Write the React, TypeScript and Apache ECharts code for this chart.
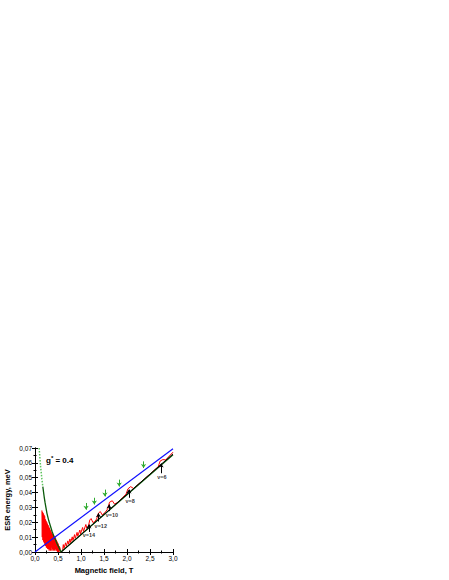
import React, { useEffect, useRef } from "react";
import * as echarts from "echarts";

// Blue line: Zeeman energy with g* = 0.4
const blueLine: number[][] = [[0, 0], [3.0, 0.0695]];
// Black line (ESR branch)
const blackLine: number[][] = [[0.57, 0], [3.0, 0.066]];
// Light green dotted part of the calculated curve
const greenDotted: number[][] = [[0.09, 0.07], [0.12, 0.058], [0.15, 0.049], [0.17, 0.044]];
// Dark green calculated curve
const greenCurve: number[][] = [
  [0.17, 0.044], [0.2, 0.037], [0.22, 0.033], [0.26, 0.026], [0.3, 0.021], [0.33, 0.018], [0.37, 0.014],
  [0.4, 0.0115], [0.44, 0.0085], [0.48, 0.0055], [0.52, 0.003], [0.565, 0], [3.0, 0.0654],
];
// Red measured trace
const redTrace: number[][] = [
  [0.150, 0.028], [0.158, 0.010], [0.165, 0.027], [0.172, 0.008], [0.180, 0.026], [0.188, 0.007],
  [0.195, 0.025], [0.203, 0.006], [0.210, 0.024], [0.218, 0.005], [0.225, 0.022], [0.233, 0.004],
  [0.240, 0.021], [0.248, 0.003], [0.255, 0.020], [0.263, 0.003], [0.270, 0.019], [0.278, 0.002],
  [0.285, 0.018], [0.293, 0.002], [0.300, 0.017], [0.308, 0.001], [0.315, 0.016], [0.323, 0.002],
  [0.330, 0.015], [0.338, 0.001], [0.345, 0.014], [0.353, 0.003], [0.360, 0.013], [0.368, 0.001],
  [0.375, 0.012], [0.383, 0.002], [0.390, 0.012], [0.398, 0.001], [0.405, 0.011], [0.413, 0.002],
  [0.420, 0.010], [0.428, 0.001], [0.435, 0.010], [0.443, 0.002], [0.450, 0.009], [0.458, 0.001],
  [0.465, 0.008], [0.473, 0.001], [0.480, 0.007], [0.488, 0.000], [0.495, 0.006], [0.503, 0.001],
  [0.510, 0.005], [0.518, 0.000], [0.525, 0.004], [0.533, 0.001], [0.540, 0.003], [0.550, 0.000],
  [0.58, 0.0005], [0.60, 0.001], [0.615, 0.005], [0.63, 0.0025], [0.665, 0.0062], [0.68, 0.0038],
  [0.715, 0.0075], [0.73, 0.0052], [0.76, 0.0088], [0.775, 0.0064], [0.81, 0.0102], [0.825, 0.0077],
  [0.86, 0.0117], [0.875, 0.0091], [0.915, 0.0132], [0.93, 0.0106], [0.975, 0.0148], [0.99, 0.0122],
  [1.035, 0.0165], [1.055, 0.0138], [1.105, 0.0185], [1.13, 0.0158], [1.16, 0.0172], [1.19, 0.0215],
  [1.22, 0.0225], [1.26, 0.0198], [1.30, 0.0205], [1.34, 0.0222], [1.38, 0.0262], [1.42, 0.0272],
  [1.46, 0.0250], [1.52, 0.0265], [1.58, 0.0290], [1.62, 0.0335], [1.68, 0.0345], [1.73, 0.0322],
  [1.80, 0.0335], [1.90, 0.0365], [1.98, 0.0390], [2.02, 0.0425], [2.08, 0.0440], [2.14, 0.0428],
  [2.30, 0.0470], [2.50, 0.0525], [2.68, 0.0575], [2.72, 0.0612], [2.78, 0.0622], [2.84, 0.0620],
  [3.0, 0.0672],
];
// Green arrows: [field, energy start (top), energy tip (bottom)]
const greenArrows: number[][] = [
  [1.11, 0.033, 0.0285], [1.29, 0.0365, 0.032], [1.52, 0.042, 0.0374], [1.83, 0.0487, 0.0441], [2.36, 0.061, 0.0565],
];
// Black arrows: [field, energy start (bottom), energy tip (top)]
const blackArrows: number[][] = [
  [1.17, 0.0135, 0.0185], [1.38, 0.0205, 0.026], [1.61, 0.0275, 0.032], [2.04, 0.0365, 0.042], [2.74, 0.053, 0.0595],
];
const fillingLabels: string[] = ["ν=14", "ν=12", "ν=10", "ν=8", "ν=6"];
const fillingLabelPos: number[][] = [[1.17, 0.0115], [1.43, 0.0175], [1.67, 0.0248], [2.07, 0.034], [2.76, 0.0505]];

const FONT = "Liberation Sans, Arial, sans-serif";

export default function App() {
  const ref = useRef<HTMLDivElement>(null);
  useEffect(() => {
    if (!ref.current) return;
    const chart = echarts.init(ref.current, null, { renderer: "svg" });
    const fmtX = (v: number) => v.toFixed(1).replace(".", ",");
    const fmtY = (v: number) => v.toFixed(2).replace(".", ",");
    const tickCommon = {
      axisLine: { show: true, lineStyle: { color: "#000", width: 1 } },
      axisTick: { show: true, inside: true, length: 3, lineStyle: { color: "#000", width: 1 } },
      minorTick: { show: true, splitNumber: 2, length: 1.5, lineStyle: { color: "#000", width: 1 } },
      splitLine: { show: false },
      minorSplitLine: { show: false },
    };
    chart.setOption({
      animation: false,
      backgroundColor: "#fff",
      grid: { left: 35, right: 276, top: 448, bottom: 28, containLabel: false },
      xAxis: [
        {
          type: "value", min: 0, max: 3, interval: 0.5, position: "bottom",
          name: "Magnetic field, T", nameLocation: "middle", nameGap: 14,
          nameTextStyle: { fontFamily: FONT, fontWeight: "bold", fontSize: 7.5, color: "#000" },
          axisLabel: { formatter: fmtX, fontFamily: FONT, fontSize: 6.5, color: "#000", margin: 3 },
          ...tickCommon,
        },
        {
          type: "value", min: 0, max: 3, interval: 0.5, position: "top",
          axisLabel: { show: false },
          ...tickCommon,
        },
      ],
      yAxis: [
        {
          type: "value", min: 0, max: 0.07, interval: 0.01, position: "left",
          name: "ESR energy, meV", nameLocation: "middle", nameGap: 24,
          nameTextStyle: { fontFamily: FONT, fontWeight: "bold", fontSize: 7.5, color: "#000" },
          axisLabel: { formatter: fmtY, fontFamily: FONT, fontSize: 6.5, color: "#000", margin: 3 },
          ...tickCommon,
        },
        {
          type: "value", min: 0, max: 0.07, interval: 0.01, position: "right",
          axisLabel: { show: false },
          ...tickCommon,
        },
      ],
      series: [
        {
          type: "line", data: redTrace, showSymbol: false, symbol: "none",
          lineStyle: { color: "#ff0000", width: 1 }, z: 2,
        },
        {
          type: "line", data: greenDotted, showSymbol: false, symbol: "none",
          lineStyle: { color: "#5cc35c", width: 1.5, type: "dotted" }, z: 3,
        },
        {
          type: "line", data: greenCurve, showSymbol: false, symbol: "none",
          lineStyle: { color: "#0a5a0a", width: 1.3 }, z: 3,
        },
        {
          type: "line", data: blackLine, showSymbol: false, symbol: "none",
          lineStyle: { color: "#000", width: 1 }, z: 4,
        },
        {
          type: "line", data: blueLine, showSymbol: false, symbol: "none",
          lineStyle: { color: "#1010ff", width: 1.2 }, z: 5,
        },
        {
          type: "line", data: [], showSymbol: false, symbol: "none",
          markLine: {
            silent: true, symbol: ["none", "arrow"], symbolSize: 4, label: { show: false },
            lineStyle: { color: "#2eaa2e", width: 1, type: "solid" },
            data: greenArrows.map((a) => [{ coord: [a[0], a[1]] }, { coord: [a[0], a[2]] }]),
          },
        },
        {
          type: "line", data: [], showSymbol: false, symbol: "none",
          markLine: {
            silent: true, symbol: ["none", "arrow"], symbolSize: 4, label: { show: false },
            lineStyle: { color: "#000", width: 1, type: "solid" },
            data: blackArrows.map((a) => [{ coord: [a[0], a[1]] }, { coord: [a[0], a[2]] }]),
          },
        },
        {
          type: "scatter", symbol: "circle", symbolSize: 1, itemStyle: { color: "rgba(0,0,0,0)" },
          data: fillingLabels.map((n, i) => ({ name: n, value: fillingLabelPos[i] })),
          label: {
            show: true, position: "inside", formatter: "{b}", fontFamily: FONT,
            fontSize: 5.5, fontWeight: "bold", color: "#000",
          },
          z: 6,
        },
      ],
      graphic: [
        {
          type: "text", left: 46, top: 455,
          style: {
            text: "g{sup|*} = 0.4",
            font: `bold 8px ${FONT}`,
            fill: "#000",
            rich: { sup: { fontSize: 6, fontWeight: "bold", verticalAlign: "top", padding: [0, 0, 4, 0] } },
          },
        },
      ],
    });
    return () => chart.dispose();
  }, []);
  return (
    <div
      ref={ref}
      style={{ position: "fixed", left: 0, top: 0, width: 449, height: 580, background: "#fff" }}
    />
  );
}
